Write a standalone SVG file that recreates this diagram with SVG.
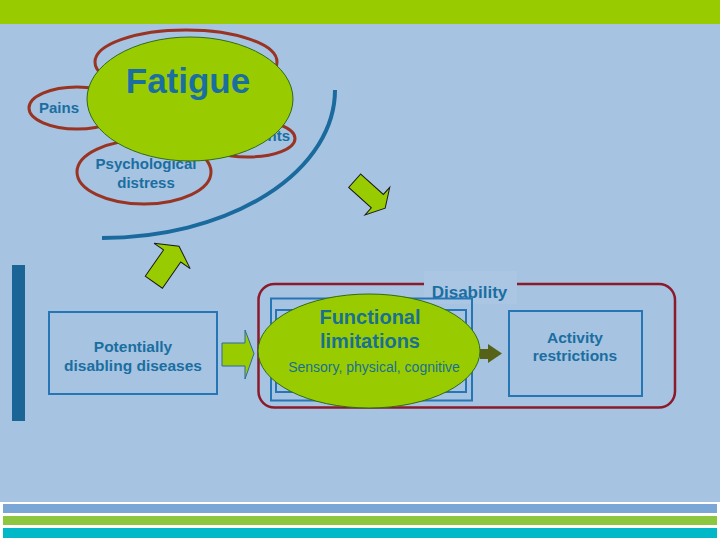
<svg xmlns="http://www.w3.org/2000/svg" width="720" height="540" viewBox="0 0 720 540">
<defs>
<style>
.bg{fill:#a6c3e2}
.sym{fill:none;stroke:#993322;stroke-width:3}
.grn{fill:#99cc00;stroke:#2f6a1a;stroke-width:1}
.garrow{fill:#99cc00;stroke:#1a1a1a;stroke-width:1}
.garrow2{fill:#99cc00;stroke:#2a6aa0;stroke-width:1}
.box{fill:none;stroke:#2675b5;stroke-width:2}
.t{font-family:"Liberation Sans",Arial,sans-serif;fill:#1a6ea0;text-anchor:middle}
.b{font-weight:bold}
</style>
</defs>
<rect x="0" y="0" width="720" height="540" fill="#ffffff"/>
<rect class="bg" x="0" y="24" width="720" height="478"/>
<rect x="0" y="0" width="720" height="24" fill="#99cc00"/>
<rect x="3" y="504" width="714" height="9" fill="#7ba7d6"/>
<rect x="3" y="516" width="714" height="9" fill="#8dc63f"/>
<rect x="3" y="528" width="714" height="10" fill="#00b8c8"/>

<g id="symptoms">
<ellipse class="sym" cx="186" cy="62" rx="91" ry="32"/>
<ellipse class="sym" cx="77" cy="108" rx="48" ry="21"/>
<ellipse class="sym" cx="248" cy="138.5" rx="47" ry="18.5"/>
<text class="t b" x="290" y="141" font-size="15" style="text-anchor:end">nts</text>
<text class="t b" x="59" y="113" font-size="15">Pains</text>
<ellipse class="sym" cx="144" cy="172" rx="67" ry="32"/>
<text class="t b" x="146" y="169" font-size="15">Psychological</text>
<text class="t b" x="146" y="188" font-size="15">distress</text>
</g>

<g id="fatigue">
<ellipse class="grn" cx="190" cy="99" rx="103" ry="62"/>
<text class="t b" x="188" y="93" font-size="35">Fatigue</text>
</g>

<g id="connectors">
<path d="M335,90 A233,148 0 0 1 102,238" fill="none" stroke="#1a6a9e" stroke-width="4"/>
<polygon class="garrow" transform="translate(153.8,282.2) rotate(-55)" points="0,-10.5 32,-10.5 32,-22 44,0 32,22 32,10.5 0,10.5"/>
<polygon class="garrow" transform="translate(354.7,180.7) rotate(42)" points="0,-9 30.5,-9 30.5,-18.5 41,0 30.5,18.5 30.5,9 0,9"/>
<polygon class="garrow2" points="222,343 245,343 245,330 254,353.5 245,379 245,366 222,366"/>
</g>

<g id="left-bar">
<rect x="12" y="265" width="13" height="156" fill="#1a6496"/>
</g>

<g id="diseases">
<rect class="box" x="49" y="312" width="168" height="82"/>
<text class="t b" x="133" y="352" font-size="15.5">Potentially</text>
<text class="t b" x="133" y="371" font-size="15.5">disabling diseases</text>
</g>

<g id="disability">
<rect x="258.5" y="284" width="416.5" height="123.5" rx="16" fill="none" stroke="#8b1a2a" stroke-width="2.5"/>
<rect x="424" y="271" width="93" height="33" fill="#aac6e3"/>
<text class="t b" x="469.5" y="298" font-size="17">Disability</text>
</g>

<g id="functional">
<rect class="box" x="271" y="298.5" width="201" height="102" stroke-width="2.5"/>
<rect class="box" x="276" y="310" width="190" height="82"/>
<ellipse class="grn" cx="369" cy="351" rx="111" ry="57"/>
<text class="t b" x="370" y="324" font-size="20" style="fill:#1a7090">Functional</text>
<text class="t b" x="370" y="348" font-size="20" style="fill:#1a7090">limitations</text>
<text class="t" x="374" y="372" font-size="14" style="fill:#1a7090">Sensory, physical, cognitive</text>
</g>

<g id="olive-arrow">
<polygon points="480,349 488,349 488,344 502,353.5 488,363 488,359 480,359" fill="#556218"/>
</g>

<g id="activity">
<rect class="box" x="509" y="311" width="133" height="85"/>
<text class="t b" x="575" y="343" font-size="15.5">Activity</text>
<text class="t b" x="575" y="361" font-size="15.5">restrictions</text>
</g>
</svg>
